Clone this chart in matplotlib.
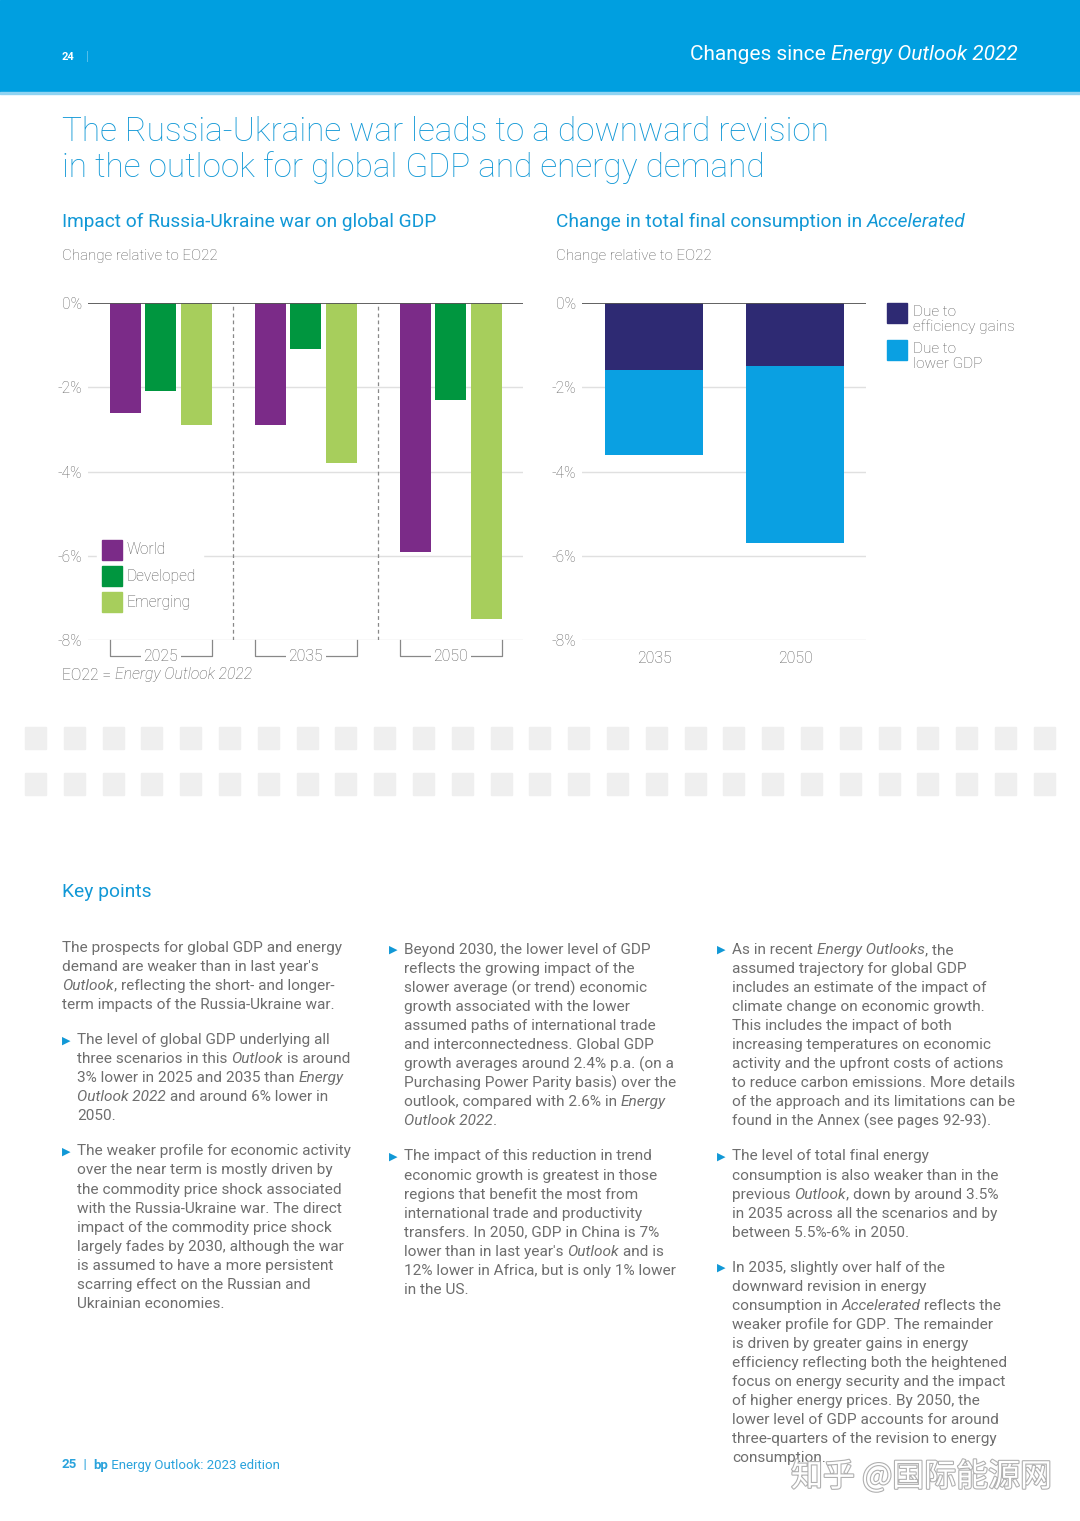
import numpy as np
import matplotlib
matplotlib.use('Agg')
import matplotlib.pyplot as plt
from matplotlib.patches import Rectangle
import matplotlib.patheffects as pe

plt.rcParams['font.family'] = ['Roboto', 'DejaVu Sans']

# ---- data ----
gdp_years = ['2025', '2035', '2050']
gdp_world = [-2.6, -2.9, -5.9]
gdp_developed = [-2.1, -1.1, -2.3]
gdp_emerging = [-2.9, -3.8, -7.5]
gdp_series = ['World', 'Developed', 'Emerging']

tfc_years = ['2035', '2050']
tfc_efficiency = [-1.6, -1.5]
tfc_lower_gdp = [-2.0, -4.2]
tfc_series = ['Due to\nefficiency gains', 'Due to\nlower GDP']

y_ticks = [0, -2, -4, -6, -8]
y_labels = ['0%', '-2%', '-4%', '-6%', '-8%']

# colours
BLUE = '#009FE0'
TITLE = '#1198D6'
TEXT = '#6e6e6e'
LABEL = '#5a5a5a'
PURPLE = '#7B2B88'
DGREEN = '#00963F'
LGREEN = '#A7CE5C'
NAVY = '#2E2A73'
CYAN = '#0AA0E2'

W, H = 1080, 1521
fig = plt.figure(figsize=(W / 100, H / 100), dpi=100)
page = fig.add_axes([0, 0, 1, 1], zorder=0)
page.set_xlim(0, W)
page.set_ylim(H, 0)
page.axis('off')
over = fig.add_axes([0, 0, 1, 1], zorder=3)
over.set_xlim(0, W)
over.set_ylim(H, 0)
over.axis('off')
over.patch.set_alpha(0)
renderer = fig.canvas.get_renderer()


def text_width(s, **kw):
    t = page.text(0, 0, s + '|', **kw)
    w = t.get_window_extent(renderer).width
    t.remove()
    t = page.text(0, 0, '|', **kw)
    w -= t.get_window_extent(renderer).width
    t.remove()
    return w


def rich_line(x, y, s, size=11, color=TEXT, weight='light', ha='left', target=None):
    # '*' toggles italic, '~' toggles bold
    target = target or page
    parts = []
    italic = bold = False
    buf = ''
    for ch in s:
        if ch in '*~':
            if buf:
                parts.append((buf, italic, bold))
            buf = ''
            if ch == '*':
                italic = not italic
            else:
                bold = not bold
        else:
            buf += ch
    if buf:
        parts.append((buf, italic, bold))
    styles = [dict(fontsize=size, color=color,
                   style='italic' if it else 'normal',
                   fontweight='bold' if bd else weight) for _, it, bd in parts]
    widths = [text_width(p[0], **st) for p, st in zip(parts, styles)]
    if ha == 'right':
        x -= sum(widths)
    for (txt, _, _), st, w in zip(parts, styles, widths):
        target.text(x, y, txt, va='center', ha='left', **st)
        x += w


# ---- header band ----
page.add_patch(Rectangle((0, 0), W, 93, color=BLUE, zorder=0))
page.add_patch(Rectangle((0, 92), W, 2, color='#8fd3f2', zorder=0))
rich_line(62, 57, '~24~', size=8, color='white')
rich_line(86, 57, '|', size=9, color='white')
rich_line(1018, 55, 'Changes since *Energy Outlook 2022*', size=15,
          color='white', weight='normal', ha='right')

# ---- page title ----
rich_line(62, 132, 'The Russia-Ukraine war leads to a downward revision',
          size=24, color=TITLE)
rich_line(62, 168, 'in the outlook for global GDP and energy demand',
          size=24, color=TITLE)

rich_line(62, 222, 'Impact of Russia-Ukraine war on global GDP', size=13.8,
          color=TITLE, weight='normal')
rich_line(62, 256, 'Change relative to EO22', size=10.9, color=LABEL)
rich_line(556, 222, 'Change in total final consumption in *Accelerated*',
          size=13.8, color=TITLE, weight='normal')
rich_line(556, 256, 'Change relative to EO22', size=10.9, color=LABEL)


def style_axis(ax):
    ax.set_facecolor('none')
    ax.set_ylim(-8, 0)
    ax.set_yticks(y_ticks)
    ax.set_yticklabels(y_labels, fontweight='light')
    ax.tick_params(axis='both', length=0, labelsize=11.2, labelcolor='#666666')
    ax.tick_params(axis='y', pad=4)
    for s in ax.spines.values():
        s.set_visible(False)
    for t in y_ticks[1:]:
        ax.axhline(t, color='#e0e0e0', lw=1, zorder=0)
    ax.axhline(0, color='#555555', lw=1.3, zorder=4)


# ---- left chart ----
ax = fig.add_axes([88 / W, 1 - 640 / H, 435 / W, 337 / H], zorder=1)
style_axis(ax)
x = np.arange(len(gdp_years))
bw, off = 0.214, 0.245
gdp_colors = [PURPLE, DGREEN, LGREEN]
for k, (vals, col) in enumerate(zip([gdp_world, gdp_developed, gdp_emerging], gdp_colors)):
    ax.bar(x + (k - 1) * off, vals, bw, color=col, label=gdp_series[k], zorder=2)
ax.set_xlim(-0.503, 2.497)
ax.set_xticks([])
for xv in [0.5, 1.5]:
    ax.axvline(xv, color='#888888', lw=0.9, ls=(0, (3, 2.5)), zorder=1)
for i, yr in enumerate(gdp_years):
    ax.plot([i - 0.352, i - 0.352, i + 0.352, i + 0.352], [-8, -8.39, -8.39, -8],
            color='#888888', lw=0.9, clip_on=False)
    ax.text(i, -8.39, yr, ha='center', va='center', fontsize=11.4,
            color=LABEL, fontweight='light', clip_on=False,
            bbox=dict(boxstyle='square,pad=0.15', fc='white', ec='none'))

# left legend (white box hides the gridline behind it)
over.add_patch(Rectangle((97, 533), 106, 86, color='white'))
for k, (col, name) in enumerate(zip(gdp_colors, gdp_series)):
    y0 = 540 + k * 26
    over.add_patch(Rectangle((102, y0), 20, 20, color=col))
    rich_line(127, y0 + 10, name, size=11.2, color=LABEL, target=over)

rich_line(62, 675, 'EO22 = *Energy Outlook 2022*', size=11.3, color=LABEL)

# ---- right chart ----
ax2 = fig.add_axes([582 / W, 1 - 640 / H, 284 / W, 337 / H], zorder=1)
style_axis(ax2)
x2 = np.arange(len(tfc_years))
ax2.bar(x2, tfc_efficiency, 0.695, color=NAVY, zorder=2)
ax2.bar(x2, tfc_lower_gdp, 0.695, bottom=tfc_efficiency, color=CYAN, zorder=2)
ax2.set_xlim(-0.514, 1.5)
ax2.set_xticks(x2)
ax2.set_xticklabels(tfc_years, fontweight='light', fontsize=11.4, color=LABEL)
ax2.tick_params(axis='x', pad=8)

# right legend
for k, (col, name) in enumerate(zip([NAVY, CYAN], tfc_series)):
    y0 = 303 + k * 37
    over.add_patch(Rectangle((887, y0), 20, 20, color=col))
    for j, ln in enumerate(name.split('\n')):
        rich_line(913, y0 + 9 + j * 15, ln, size=11.1, color=LABEL, target=over)

# ---- dotted band ----
for row_y in [727, 773]:
    for i in range(27):
        page.add_patch(Rectangle((25 + i * 38.8, row_y), 21, 22, color='#efefef'))

# ---- key points ----
rich_line(62, 892, 'Key points', size=13.9, color=TITLE, weight='normal')

col1 = [
    ('', 'The prospects for global GDP and energy'),
    ('', "demand are weaker than in last year's"),
    ('', '*Outlook*, reflecting the short- and longer-'),
    ('', 'term impacts of the Russia-Ukraine war.'),
    ('gap', ''),
    ('b', 'The level of global GDP underlying all'),
    ('', 'three scenarios in this *Outlook* is around'),
    ('', '3% lower in 2025 and 2035 than *Energy*'),
    ('', '*Outlook 2022* and around 6% lower in'),
    ('', '2050.'),
    ('gap', ''),
    ('b', 'The weaker profile for economic activity'),
    ('', 'over the near term is mostly driven by'),
    ('', 'the commodity price shock associated'),
    ('', 'with the Russia-Ukraine war. The direct'),
    ('', 'impact of the commodity price shock'),
    ('', 'largely fades by 2030, although the war'),
    ('', 'is assumed to have a more persistent'),
    ('', 'scarring effect on the Russian and'),
    ('', 'Ukrainian economies.'),
]
col2 = [
    ('b', 'Beyond 2030, the lower level of GDP'),
    ('', 'reflects the growing impact of the'),
    ('', 'slower average (or trend) economic'),
    ('', 'growth associated with the lower'),
    ('', 'assumed paths of international trade'),
    ('', 'and interconnectedness. Global GDP'),
    ('', 'growth averages around 2.4% p.a. (on a'),
    ('', 'Purchasing Power Parity basis) over the'),
    ('', 'outlook, compared with 2.6% in *Energy*'),
    ('', '*Outlook 2022*.'),
    ('gap', ''),
    ('b', 'The impact of this reduction in trend'),
    ('', 'economic growth is greatest in those'),
    ('', 'regions that benefit the most from'),
    ('', 'international trade and productivity'),
    ('', 'transfers. In 2050, GDP in China is 7%'),
    ('', "lower than in last year's *Outlook* and is"),
    ('', '12% lower in Africa, but is only 1% lower'),
    ('', 'in the US.'),
]
col3 = [
    ('b', 'As in recent *Energy Outlooks*, the'),
    ('', 'assumed trajectory for global GDP'),
    ('', 'includes an estimate of the impact of'),
    ('', 'climate change on economic growth.'),
    ('', 'This includes the impact of both'),
    ('', 'increasing temperatures on economic'),
    ('', 'activity and the upfront costs of actions'),
    ('', 'to reduce carbon emissions. More details'),
    ('', 'of the approach and its limitations can be'),
    ('', 'found in the Annex (see pages 92-93).'),
    ('gap', ''),
    ('b', 'The level of total final energy'),
    ('', 'consumption is also weaker than in the'),
    ('', 'previous *Outlook*, down by around 3.5%'),
    ('', 'in 2035 across all the scenarios and by'),
    ('', 'between 5.5%-6% in 2050.'),
    ('gap', ''),
    ('b', 'In 2035, slightly over half of the'),
    ('', 'downward revision in energy'),
    ('', 'consumption in *Accelerated* reflects the'),
    ('', 'weaker profile for GDP. The remainder'),
    ('', 'is driven by greater gains in energy'),
    ('', 'efficiency reflecting both the heightened'),
    ('', 'focus on energy security and the impact'),
    ('', 'of higher energy prices. By 2050, the'),
    ('', 'lower level of GDP accounts for around'),
    ('', 'three-quarters of the revision to energy'),
    ('', 'consumption.'),
]


def draw_column(lines, x0, y0):
    y = y0
    indent = False
    for kind, txt in lines:
        if kind == 'gap':
            y += 16
            continue
        if kind == 'b':
            indent = True
            page.text(x0, y, '\u25B6', fontsize=8, color=TITLE, va='center',
                      ha='left', family=['DejaVu Sans'])
        rich_line(x0 + (15 if indent else 0), y, txt, size=11.1, color=TEXT,
                  weight='normal')
        y += 19.05


draw_column(col1, 62, 948)
draw_column(col2, 389, 950)
draw_column(col3, 717, 950)

# ---- footer ----
rich_line(62, 1465, '~25~  |  ~bp~ Energy Outlook: 2023 edition', size=9.5,
          color='#2AA3DC', weight='normal')

# watermark
page.text(791, 1477, '知乎 @国际能源网', fontsize=23, color='white',
          family=['Noto Sans CJK SC', 'DejaVu Sans'], va='center', ha='left',
          path_effects=[pe.withStroke(linewidth=1.6, foreground='#b0b0b0')])

fig.savefig('out.png', dpi=100)
